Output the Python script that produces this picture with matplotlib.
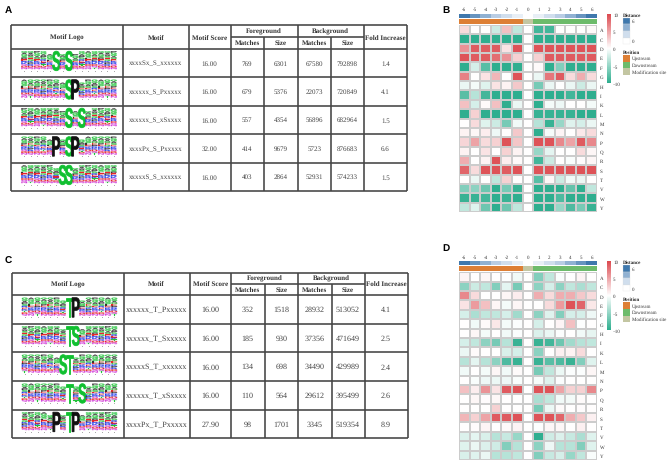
import matplotlib
matplotlib.use("Agg")
import matplotlib.pyplot as plt
import numpy as np
from matplotlib.colors import LinearSegmentedColormap, ListedColormap
from matplotlib.font_manager import FontProperties
from matplotlib.patches import PathPatch, Rectangle
from matplotlib.text import TextPath
from matplotlib.transforms import Affine2D

plt.rcParams["text.hinting"] = "no_hinting"
plt.rcParams["text.hinting_factor"] = 1

W, H = 669, 464
SERIF = "Liberation Serif"

# tables
motifs_a = ["xxxxSx_S_xxxxxx", "xxxxxx_S_Pxxxxx", "xxxxxx_S_xSxxxx", "xxxxPx_S_Pxxxxx", "xxxxxS_S_xxxxxx"]
score_a = ["16.00", "16.00", "16.00", "32.00", "16.00"]
fg_match_a = [769, 679, 557, 414, 403]
fg_size_a = [6301, 5376, 4354, 9679, 2864]
bg_match_a = [67580, 22073, 56896, 5723, 52931]
bg_size_a = [792898, 720849, 682964, 876683, 574233]
fold_a = [1.4, 4.1, 1.5, 6.6, 1.5]
big_a = [{5: "S", 7: "S"}, {7: "S", 8: "P"}, {7: "S", 9: "S"}, {5: "P", 7: "S", 8: "P"}, {6: "S", 7: "S"}]

motifs_c = ["xxxxxx_T_Pxxxxx", "xxxxxx_T_Sxxxxx", "xxxxxS_T_xxxxxx", "xxxxxx_T_xSxxxx", "xxxxPx_T_Pxxxxx"]
score_c = ["16.00", "16.00", "16.00", "16.00", "27.90"]
fg_match_c = [352, 185, 134, 110, 98]
fg_size_c = [1518, 930, 698, 564, 1701]
bg_match_c = [28932, 37356, 34490, 29612, 3345]
bg_size_c = [513052, 471649, 429989, 395499, 519354]
fold_c = [4.1, 2.5, 2.4, 2.6, 8.9]
big_c = [{7: "T", 8: "P"}, {7: "T", 8: "S"}, {6: "S", 7: "T"}, {7: "T", 9: "S"}, {5: "P", 7: "T", 8: "P"}]

# letter stacks for the small logo columns, top to bottom
stacks = ["GAGSPERKQDN", "GSAGEPRKDQT", "AGGSLEKRDQN", "GGAPSREKTDQ", "PGGASEKRQDN", "GAASEGKPRDQ"]
letter_colors = {"G": "#22c33a", "S": "#22c33a", "T": "#22c33a", "A": "#333333", "P": "#333333",
                 "L": "#333333", "E": "#e8262a", "D": "#e8262a", "K": "#2a3fe8",
                 "R": "#2a3fe8", "Q": "#d43fd8", "N": "#d43fd8"}

# heatmaps
residues = list("ACDEFGHIKLMNPQRSTVWY")
distance_labels = [-6, -5, -4, -3, -2, -1, 0, 1, 2, 3, 4, 5, 6]
distance = [6, 5, 4, 3, 2, 1, 0, 1, 2, 3, 4, 5, 6]
position = [0, 0, 0, 0, 0, 0, 2, 1, 1, 1, 1, 1, 1]
position_names = ["Upstream", "Downstream", "Modification site"]

values_b = [
    [2, 0, 0, -2.5, 3.5, -3, 0, -9, -9, 0, 0, 0, 0.3],
    [-10, -10, -10, -10, -10, -10, 0, -10, -10, -10, -10, -10, -10],
    [6, 9, 9, 9, 1.5, 9.5, 0, 9.5, 9.5, 9.5, 9.5, 9.5, 9.5],
    [9.5, 9, 9, 8, 6, 2.5, 0, 2.5, 9, 9, 9, 9, 9],
    [-10, -2, -8, -10, -10, -10, 0, 0.3, -10, -6, -10, -10, -10],
    [7, 0, 1.5, 4, 0, 9.5, 0, -1, 7.5, 9, 2, 4.5, 2],
    [-1, -0.5, -1.5, 1.5, 0.7, 3, 0, -6.5, -1, 0, -1, -2.5, -1],
    [-8, -3.5, -9, -10, -10, -10, 0, -10, -10, -10, -9, -10, -10],
    [3.5, -2, 0.3, 3.5, -10, -1, 0, -10, -0.5, -0.8, 0, 0, -0.5],
    [-10, 2.5, -10, -10, -10, -10, 0, -9.5, -9.5, -9.5, -9.5, -10, -10],
    [0, 2, -1.5, -2.5, -6.5, -0.7, 0, -3.5, -9.5, -5, -1.5, -2, -1],
    [0.7, 0.4, 1, -0.8, 0, 3, 0, -10, -0.4, 0.6, 0, 1.2, 2],
    [2.3, 5, 2, 2.5, 9.5, 3.2, 0, 9.5, 9.5, 6.5, 5, 9, 6.5],
    [0.7, 0, 1.5, 0, 2.5, 0.7, 0, -5, -1.3, 0, 0, 2, 0.5],
    [4.5, 0, 0.7, 9.5, 1, 0.3, 0, -9, -2.5, 0, -0.3, 0.2, 0.5],
    [8.5, 2, 9.5, 9.5, 9, 9.5, 0, 9.5, 9.5, 9.5, 9.5, 9.5, 9.5],
    [0, -1, 0, -3, 2.5, 0, 0, -8, 0.4, -2.5, -0.7, -1, 0],
    [-6, -5.5, -7, -10, -6.5, -9.5, 0, -10, -10, -10, -7.5, -10, -3],
    [-9.5, -9.5, -9, -10, -9.5, -10, 0, -10, -10, -8.5, -10, -10, -10],
    [-3, -1.5, -7, -10, -7, -3, 0, -10, -10, -5, -8.5, -6.5, -9.5],
]

values_d = [
    [0.6, 0, 0.5, 0, -0.1, -0.7, 0, -6, -3, -0.3, 0, 0.6, 0],
    [-5.5, -2.5, -3, -6, -1.3, -6.5, 0, -5.5, -2, -5.5, -3, -4, -3],
    [6.5, 2, 0, 0, 0.5, 1, 0, 4.5, 2, 4.5, 4.5, 3, 2],
    [1.5, 5.5, 3.5, 0.5, -0.5, 0.5, 0, 0, 2, 5.5, 9.5, 8.5, 1.3],
    [-2, -4, -3, -3, -2, -4.5, 0, -5.5, -1.5, -6, -2, -2, -0.8],
    [0, -0.7, 0.3, 1.3, -0.5, -0.2, 0, -2, 0, 0.6, 3.5, -0.1, 0],
    [0, 0.5, -0.5, 0, -0.7, -0.2, 0, -1.7, -1, -0.2, 0, -0.7, -1.2],
    [-2, -3, -5.5, -6.5, -3.5, -9.5, 0, -9.5, -9, -7, -4.5, -3.5, -3],
    [-1, 0.3, 0, 0, -1.8, -2, 0, -5.5, 0, 0.8, 0.7, 2, 0],
    [-3.5, -1.3, -3.5, -5.5, -8.5, -9.5, 0, -9.5, -8, -8.5, -9.5, -6, -1.5],
    [-0.7, 0, -0.5, 0.5, -0.7, 0.3, 0, -6.5, -3, -0.9, -0.2, -0.2, 0.5],
    [0, -0.3, -0.8, -0.9, -0.8, -0.3, 0, -0.4, -1.5, -0.2, 0, 0, 0],
    [3.5, 1, 6, 1.5, 9, 9.5, 0, 9.5, 9.5, 5, 2.5, 2.5, 6.5],
    [0, 0.5, 0.2, 0.4, 0, 0, 0, -4, -3, -0.7, -0.6, 0.3, 0],
    [0, 0, 0, 2.5, 0, 0, 0, -6.5, -0.9, 0.3, 0, 0.2, 0.1],
    [4, 2.5, 5, 9, 9, 9.5, 0, 9.5, 9.5, 8.5, 4.5, 3, 0.8],
    [0, 0.2, 0.6, 0, 0.3, 0.6, 0, -0.1, 0.4, 0.4, 0, 0.8, 0],
    [-1.7, -1.3, -1.8, -3.5, -2.7, -5, 0, -10, -2.3, -1.7, -2.7, -4, -1.5],
    [-1.5, -1, -1.7, -2.3, -6, -3.5, 0, -5.5, -0.8, -3.5, -3.5, -6, -1.5],
    [-1.8, -1.5, -1, -3.5, -3.5, -3, 0, -6, -2.7, -2, -5, -3, -0.3],
]

heat_cmap = LinearSegmentedColormap.from_list("heat", ["#2fae8f", "#ffffff", "#dc4a50"])
dist_cmap = LinearSegmentedColormap.from_list("dist", ["#ffffff", "#b9cde4", "#3f78ad"])
pos_colors = ["#dd7f35", "#6dbb6b", "#c3c6a2"]

fig = plt.figure(figsize=(W / 100, H / 100), dpi=100)
page = fig.add_axes([0, 0, 1, 1])
page.set_xlim(0, W)
page.set_ylim(H, 0)
page.axis("off")


def px_axes(x0, y0, x1, y1):
    return fig.add_axes([x0 / W, 1 - y1 / H, (x1 - x0) / W, (y1 - y0) / H])


def draw_letter(ch, x, y, w, h, color, lw=0.1):
    # fit a glyph in the box x,y,w,h (page pixels, y downwards)
    tp = TextPath((0, 0), ch, size=1, prop=FontProperties(family="Liberation Sans", weight="bold"))
    b = tp.get_extents()
    tr = (Affine2D().translate(-b.x0, -b.y0)
          .scale(w / b.width, -h / b.height).translate(x, y + h))
    page.add_patch(PathPatch(tp, transform=tr + page.transData, fc=color, ec=color, lw=lw))


def draw_logo(x0, y0, big, seed):
    col_w = 6.4
    for c in range(15):
        cx = x0 + c * col_w
        if c in big:
            color = "#111111" if big[c] == "P" else "#10c030"
            draw_letter(big[c], cx - 0.6, y0, col_w + 1.2, 19.5, color, lw=0.6)
            continue
        stack = stacks[(c * 5 + seed) % len(stacks)]
        near = (c - 1) in big or (c + 1) in big
        top = y0 + (3 if near else 0)
        h = (18 - (top - y0)) / len(stack)
        for i, ch in enumerate(stack):
            draw_letter(ch, cx + 0.3, top + i * h, col_w - 0.6, h * 0.92, letter_colors[ch])
        page.plot([cx + col_w / 2], [y0 + 19.3], ".", ms=1, color="#777777", mew=0)


def draw_table(xs, ys, motifs, scores, fgm, fgs, bgm, bgs, fold, big, size, seed):
    lc = "#444444"
    lw = 1.15
    page.hlines([ys[0], ys[2]] + ys[3:], xs[0], xs[-1], color=lc, lw=lw)
    page.hlines(ys[1], xs[3], xs[7], color=lc, lw=lw)
    for i, x in enumerate(xs):
        if i in (4, 6):
            page.vlines(x, ys[1], ys[-1], color=lc, lw=lw)
        else:
            page.vlines(x, ys[0], ys[-1], color=lc, lw=lw)
    kw = dict(family=SERIF, fontweight="bold", fontsize=5.0, ha="center", va="center", color="#333333")
    ym = (ys[0] + ys[2]) / 2
    for k, t in enumerate(["Motif Logo", "Motif", "Motif Score"]):
        page.text((xs[k] + xs[k + 1]) / 2, ym, t, **kw)
    page.text((xs[8] + xs[7]) / 2, ym, "Fold Increase", **kw)
    page.text((xs[3] + xs[5]) / 2, (ys[0] + ys[1]) / 2, "Foreground", **kw)
    page.text((xs[5] + xs[7]) / 2, (ys[0] + ys[1]) / 2, "Background", **kw)
    for k, t in zip(range(3, 7), ["Matches", "Size", "Matches", "Size"]):
        page.text((xs[k] + xs[k + 1]) / 2, (ys[1] + ys[2]) / 2, t, **kw)
    body = dict(family=SERIF, fontsize=size, ha="center", va="center", color="#444444")
    for r in range(5):
        y = (ys[r + 2] + ys[r + 3]) / 2
        row = [motifs[r], scores[r], fgm[r], fgs[r], bgm[r], bgs[r], fold[r]]
        for k, v in enumerate(row):
            page.text((xs[k + 1] + xs[k + 2]) / 2, y, str(v), **body)
        draw_logo(xs[0] + 10, ys[r + 2] + 2.7, big[r], seed + r * 2)


def draw_heatmap(x0, x1, y_dist, y_pos, y_cells, y_end, cb_top, cb_bot, values, y_title):
    ax = px_axes(x0, y_cells, x1, y_end)
    ax.pcolormesh(np.array(values), cmap=heat_cmap, vmin=-10, vmax=10, edgecolors="#cccccc", linewidth=0.35)
    ax.set_ylim(20, 0)
    ax.set_xticks([])
    ax.yaxis.tick_right()
    ax.set_yticks(np.arange(20) + 0.5, residues, family=SERIF, fontsize=3.8, color="#333333")
    ax.tick_params(length=0, pad=2)
    for s in ax.spines.values():
        s.set_visible(False)

    a1 = px_axes(x0, y_dist[0], x1, y_dist[1])
    a1.pcolormesh([distance], cmap=dist_cmap, vmin=0, vmax=6)
    a1.xaxis.tick_top()
    a1.set_xticks(np.arange(13) + 0.5, distance_labels, family=SERIF, fontsize=3.8, color="#333333")
    a1.set_yticks([])
    a1.tick_params(length=0, pad=1.5)
    a2 = px_axes(x0, y_pos[0], x1, y_pos[1])
    a2.pcolormesh([position], cmap=ListedColormap(pos_colors), vmin=0, vmax=2)
    a2.set_xticks([])
    a2.set_yticks([])
    for a in (a1, a2):
        for s in a.spines.values():
            s.set_visible(False)

    # colourbar
    cb = px_axes(607, cb_top, 611, cb_bot)
    grad = np.linspace(-10, 10, 120).reshape(-1, 1)
    cb.pcolormesh([0, 1], np.linspace(-10, 10, 121), grad, cmap=heat_cmap, vmin=-10, vmax=10)
    cb.set_xticks([])
    cb.yaxis.tick_right()
    cb.set_yticks([-10, -5, 0, 5, 10], ["\u221210", "\u22125", "0", "5", "10"],
                  family=SERIF, fontsize=3.8, color="#333333")
    cb.tick_params(length=0, pad=1.5)
    for s in cb.spines.values():
        s.set_visible(False)

    # legends
    tk = dict(family=SERIF, fontweight="bold", fontsize=3.8, va="center", color="#222222")
    lk = dict(family=SERIF, fontsize=3.7, va="center", color="#333333")
    page.text(623, y_title, "Distance", **tk)
    for i, lv in enumerate([6, 4, 2, 0]):
        page.add_patch(Rectangle((623, y_title + 3 + i * 6.6), 7, 6.6, fc=dist_cmap(lv / 6), ec="#dddddd", lw=0.2))
    page.text(632, y_title + 6.3, "6", **lk)
    page.text(632, y_title + 26.3, "0", **lk)
    page.text(623, y_title + 37, "Position", **tk)
    for i, name in enumerate(position_names):
        page.add_patch(Rectangle((623, y_title + 40 + i * 6.8), 7, 6.8, fc=pos_colors[i], ec="none"))
        page.text(632, y_title + 43.4 + i * 6.8, name, **lk)


draw_table([11, 123, 188.5, 230.5, 264, 297.5, 331, 364, 407], [26, 37.5, 49.5, 78, 106.5, 135, 163.5, 192],
           motifs_a, score_a, fg_match_a, fg_size_a, bg_match_a, bg_size_a, fold_a, big_a, 5.0, 0)
draw_table([11.5, 123.5, 189.5, 231, 264.5, 298, 331.5, 364.5, 407.5], [273.5, 284.5, 296, 324.5, 353, 382, 410.5, 439],
           motifs_c, score_c, fg_match_c, fg_size_c, bg_match_c, bg_size_c, fold_c, big_c, 5.8, 3)

draw_heatmap(459, 597, (14.5, 19), (19.5, 24.5), 26, 213, 15, 84, values_b, 15.7)
draw_heatmap(459, 597, (261.7, 266), (267, 272), 273.3, 461, 262, 331, values_d, 263)

panel = dict(family="Liberation Sans", fontweight="bold", fontsize=7.5, va="center", color="black")
page.text(5, 10.5, "A", **panel)
page.text(442, 10.5, "B", **panel)
page.text(5, 261, "C", **panel)
page.text(442, 248, "D", **panel)

fig.savefig("out.png", dpi=100)
